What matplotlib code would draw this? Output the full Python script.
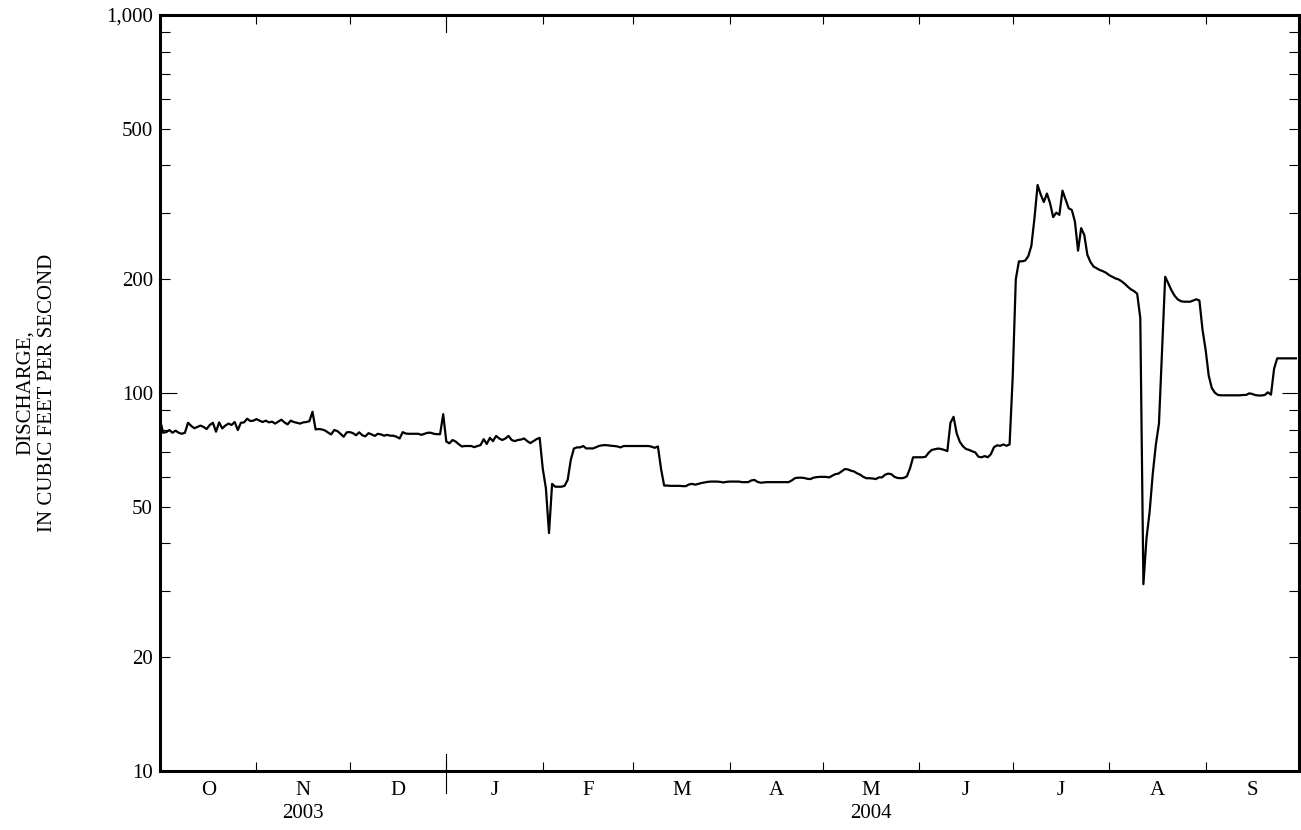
import numpy as np
import matplotlib
matplotlib.use("Agg")
import matplotlib.pyplot as plt
import matplotlib.ticker as mticker
import matplotlib.transforms as mtransforms

# daily mean discharge, water year Oct 2003 - Sep 2004
oct03 = [85, 78.5, 78.8, 79.8, 78.5, 79.5, 78.5, 78, 78.5, 83.4,
         81.9, 80.7, 81.3, 82, 81.3, 80.3, 82.3, 83.4, 79, 83.6,
         80.6, 82, 83, 82.3, 83.8, 79.8, 83.4, 83.6, 85.5, 84.3, 84.5]
nov03 = [85.3, 84.5, 83.8, 84.5, 83.6, 84, 83, 84, 85, 83.6,
         82.6, 84.5, 83.8, 83.4, 83, 83.6, 83.8, 84.2, 89.2, 80.1,
         80.3, 80.1, 79.6, 78.6, 77.7, 79.8, 79.3, 78, 76.6, 78.7]
dec03 = [78.8, 78.3, 77.3, 78.7, 77.3, 76.8, 78.3, 77.7, 77, 78,
         77.7, 77.1, 77.5, 77.1, 77.1, 76.6, 75.8, 78.8, 78.1, 78,
         78, 78, 78, 77.5, 78, 78.5, 78.5, 78, 77.8, 77.8, 87.9]
jan04 = [74.4, 73.6, 75.1, 74.4, 73.2, 72.2, 72.4, 72.4, 72.4, 71.9,
         72.4, 72.8, 75.5, 73.3, 76.1, 74.6, 77, 75.8, 75.1, 75.8,
         77, 75.1, 74.6, 75.1, 75.3, 75.8, 74.6, 73.7, 74.6, 75.5, 76.1]
feb04 = [63, 56, 42.6, 57.5, 56.5, 56.5, 56.5, 56.8, 58.9, 66.5,
         71.3, 71.8, 71.8, 72.4, 71.3, 71.4, 71.3, 71.8, 72.4, 72.7,
         72.8, 72.7, 72.5, 72.4, 72.2, 71.8, 72.4, 72.4, 72.4]
mar04 = [72.4, 72.4, 72.4, 72.4, 72.4, 72.4, 72.1, 71.6, 72.2, 63,
         56.9, 56.9, 56.8, 56.8, 56.8, 56.8, 56.7, 56.7, 57.3, 57.5,
         57.2, 57.5, 57.8, 58, 58.2, 58.3, 58.3, 58.3, 58.2, 58, 58.2]
apr04 = [58.3, 58.3, 58.3, 58.3, 58.1, 58.1, 58.1, 58.7, 58.9, 58.2,
         57.9, 58, 58.1, 58.1, 58.1, 58.1, 58.1, 58.1, 58.1, 58.1,
         58.7, 59.5, 59.7, 59.7, 59.6, 59.3, 59.2, 59.7, 59.9, 60]
may04 = [60, 60, 59.8, 60.4, 61, 61.2, 62, 62.9, 62.8, 62.3,
         62, 61.3, 60.8, 60, 59.5, 59.5, 59.4, 59.2, 59.8, 59.8,
         60.8, 61.2, 61, 60, 59.6, 59.5, 59.6, 60.2, 63.2, 67.6, 67.6]
jun04 = [67.6, 67.6, 67.8, 69.5, 70.7, 71, 71.3, 71.1, 70.7, 70.2,
         83.4, 86.5, 78.2, 74.3, 72.3, 71.1, 70.7, 70.1, 69.6, 67.8,
         67.6, 68.1, 67.6, 68.9, 71.9, 72.7, 72.5, 73.1, 72.5, 73.1]
jul04 = [110, 200, 223, 223, 224, 230, 245, 290, 355, 335,
         320, 337, 318, 292, 300, 296, 343, 325, 308, 305,
         284, 238, 273, 262, 232, 222, 216, 213.7, 211.5, 210, 208]
aug04 = [205, 203, 201, 199.8, 197.5, 194.5, 191, 188, 186, 183,
         158, 31.2, 41.3, 48.5, 61, 73, 83, 130, 203, 195,
         187, 181, 177, 175, 174.4, 174.4, 174.4, 175.6, 177, 175.6, 147]
sep04 = [130, 111, 103, 100.1, 98.8, 98.6, 98.6, 98.6, 98.6, 98.6,
         98.6, 98.6, 98.8, 98.8, 99.8, 99.4, 98.7, 98.5, 98.5, 98.8,
         100.4, 99, 116, 123.5, 123.5, 123.5, 123.5, 123.5, 123.5, 123.5]

month_letters = ['O', 'N', 'D', 'J', 'F', 'M', 'A', 'M', 'J', 'J', 'A', 'S']
years = ['2003', '2004']

flow = np.array(oct03 + nov03 + dec03 + jan04 + feb04 + mar04 +
                apr04 + may04 + jun04 + jul04 + aug04 + sep04)
days = np.arange(len(flow))

# month boundaries as day offsets from Oct 1 2003
months = np.arange('2003-10', '2004-11', dtype='datetime64[M]').astype('datetime64[D]')
bounds = (months - months[0]).astype(int)
mids = (bounds[:-1] + bounds[1:]) / 2.0
jan1 = bounds[3]

plt.rcParams['font.family'] = ['Liberation Serif', 'DejaVu Serif']
plt.rcParams['font.size'] = 15

fig = plt.figure(figsize=(13.01, 8.30), dpi=100)
ax = fig.add_axes([160/1301, 59/830, 1139/1301, 756/830])

ax.plot(days, flow, color='black', lw=1.6)

ax.set_yscale('log')
ax.set_ylim(10, 1000)
ax.set_xlim(0, bounds[-1])

for s in ax.spines.values():
    s.set_linewidth(2.2)

# y axis: long ticks at decades, short ticks elsewhere
ax.yaxis.set_major_locator(mticker.FixedLocator([10, 100, 1000]))
minor_y = [m * d for d in (10, 100) for m in range(2, 10)]
ax.yaxis.set_minor_locator(mticker.FixedLocator(minor_y))
fmt = lambda v, p: '{:,}'.format(int(round(v))) if int(round(v)) in (10, 20, 50, 100, 200, 500, 1000) else ''
ax.yaxis.set_major_formatter(mticker.FuncFormatter(fmt))
ax.yaxis.set_minor_formatter(mticker.FuncFormatter(fmt))
ax.tick_params(axis='y', which='major', direction='in', length=12, width=0.8,
               left=True, right=True, labelsize=15, pad=5)
ax.tick_params(axis='y', which='minor', direction='in', length=7, width=0.8,
               left=True, right=True, labelsize=15, pad=5)

# x axis: ticks at month boundaries, letters at mid month
ax.xaxis.set_major_locator(mticker.FixedLocator(bounds[1:-1]))
ax.xaxis.set_major_formatter(mticker.NullFormatter())
ax.xaxis.set_minor_locator(mticker.FixedLocator(mids))
ax.xaxis.set_minor_formatter(mticker.FixedFormatter(month_letters))
ax.tick_params(axis='x', which='major', direction='in', length=6.5, width=0.8,
               top=True, bottom=True)
ax.tick_params(axis='x', which='minor', length=0, labelsize=15, pad=7)

# longer tick at the calendar year change
trans = mtransforms.blended_transform_factory(ax.transData, ax.transAxes)
ax.plot([jan1, jan1], [-0.029, 0.0225], transform=trans, color='black', lw=0.8, clip_on=False)
ax.plot([jan1, jan1], [1 - 0.0225, 1], transform=trans, color='black', lw=0.8, clip_on=False)

ax.text(mids[1], -0.043, years[0], transform=trans, ha='center', va='top', fontsize=15)
ax.text(mids[7], -0.043, years[1], transform=trans, ha='center', va='top', fontsize=15)

ax.set_ylabel('DISCHARGE,\nIN CUBIC FEET PER SECOND', fontsize=15)
ax.yaxis.set_label_coords(-0.0905, 0.5)

fig.savefig('out.png', dpi=100)
